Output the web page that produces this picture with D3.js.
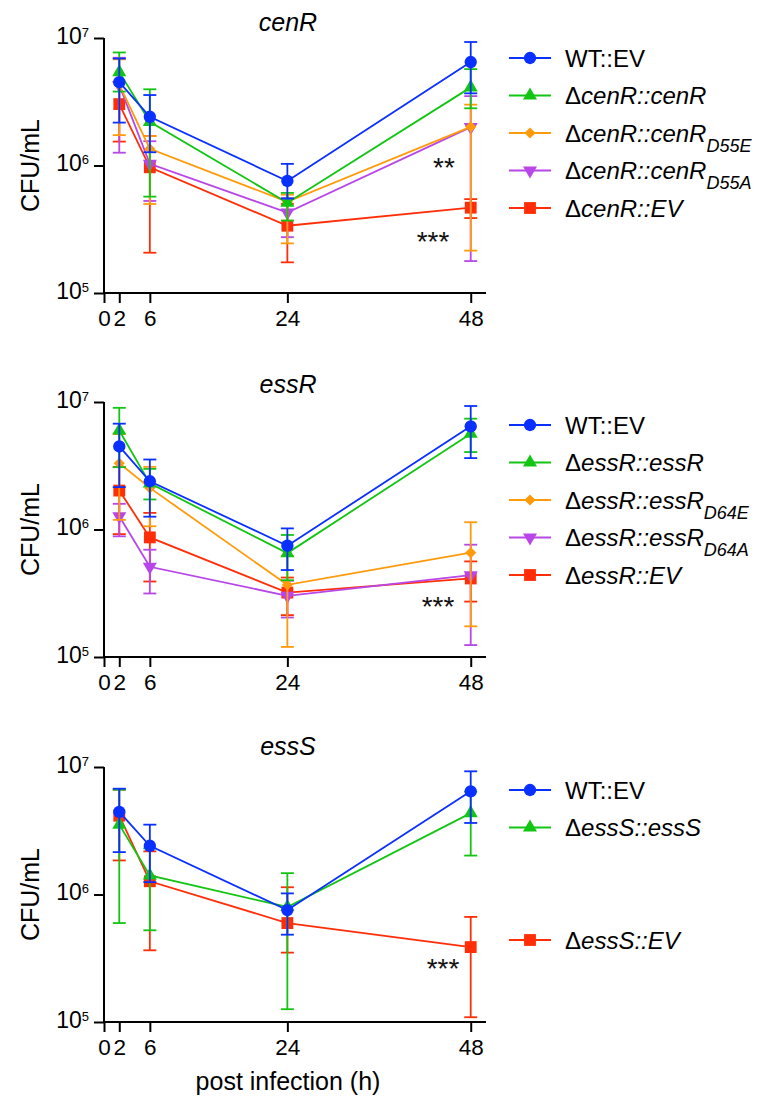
<!DOCTYPE html>
<html>
<head>
<meta charset="utf-8">
<script src="https://cdn.jsdelivr.net/npm/d3@7"></script>
<style>
  body { margin: 0; background: #fff; }
  svg { font-family: Arial, "Liberation Sans", Helvetica, sans-serif; }
</style>
</head>
<body>
<div id="chart"></div>
<script>
// time points (h) and axis ticks
const hours = [2, 6, 24, 48];
const xTicks = [0, 2, 6, 24, 48];
const yTicks = [1e5, 1e6, 1e7];

// cenR panel
const cenR_WT = [4.5e6, 2.41e6, 7.56e5, 6.48e6];
const cenR_WT_lo = [2.17e6, 1.27e6, 5.5e5, 3.68e6];
const cenR_WT_hi = [6.9e6, 3.57e6, 1.03e6, 9.3e6];
const cenR_comp = [5.4e6, 2.2e6, 5.1e5, 4.1e6];
const cenR_comp_lo = [3.8e6, 5.7e5, 3.7e5, 2.81e6];
const cenR_comp_hi = [7.7e6, 3.96e6, 6.1e5, 5.7e6];
const cenR_D55E = [4.3e6, 1.35e6, 5.2e5, 2.01e6];
const cenR_D55E_lo = [1.73e6, 4.99e5, 2.45e5, 2.15e5];
const cenR_D55E_hi = [6.8e6, 1.7e6, 5.9e5, 3.0e6];
const cenR_D55A = [4.27e6, 1.03e6, 4.27e5, 2.0e6];
const cenR_D55A_lo = [1.26e6, 5.27e5, 2.74e5, 1.78e5];
const cenR_D55A_hi = [7.0e6, 1.55e6, 5.56e5, 3.5e6];
const cenR_EV = [3.03e6, 9.68e5, 3.37e5, 4.67e5];
const cenR_EV_lo = [1.54e6, 2.07e5, 1.74e5, 3.87e5];
const cenR_EV_hi = [4.5e6, 1.7e6, 5.0e5, 5.45e5];

// essR panel
const essR_WT = [4.48e6, 2.39e6, 7.46e5, 6.44e6];
const essR_WT_lo = [2.15e6, 1.26e6, 4.81e5, 3.63e6];
const essR_WT_hi = [6.76e6, 3.54e6, 1.02e6, 9.3e6];
const essR_comp = [5.98e6, 2.3e6, 6.53e5, 5.64e6];
const essR_comp_lo = [3.08e6, 1.72e6, 4.0e5, 4.05e6];
const essR_comp_hi = [9.0e6, 2.99e6, 9.06e5, 7.4e6];
const essR_D64E = [3.31e6, 2.12e6, 3.68e5, 6.58e5];
const essR_D64E_lo = [1.19e6, 1.06e6, 1.2e5, 1.74e5];
const essR_D64E_hi = [5.6e6, 3.1e6, 6.2e5, 1.14e6];
const essR_D64A = [1.27e6, 5.1e5, 3.02e5, 4.38e5];
const essR_D64A_lo = [8.84e5, 3.15e5, 2.04e5, 1.24e5];
const essR_D64A_hi = [1.59e6, 6.94e5, 3.96e5, 7.6e5];
const essR_EV = [2.02e6, 8.67e5, 3.2e5, 4.13e5];
const essR_EV_lo = [9.2e5, 3.91e5, 2.13e5, 2.72e5];
const essR_EV_hi = [3.1e6, 1.35e6, 4.2e5, 5.62e5];

// essS panel
const essS_WT = [4.44e6, 2.41e6, 7.55e5, 6.44e6];
const essS_WT_lo = [2.15e6, 1.25e6, 4.84e5, 3.64e6];
const essS_WT_hi = [6.76e6, 3.53e6, 1.02e6, 9.25e6];
const essS_comp = [3.53e6, 1.41e6, 7.98e5, 4.35e6];
const essS_comp_lo = [5.97e5, 5.24e5, 1.26e5, 2.02e6];
const essS_comp_hi = [6.64e6, 2.3e6, 1.47e6, 6.4e6];
const essS_EV = [4.15e6, 1.27e6, 5.97e5, 3.87e5];
const essS_EV_lo = [1.85e6, 3.65e5, 3.5e5, 1.09e5];
const essS_EV_hi = [6.64e6, 2.18e6, 1.14e6, 6.67e5];

const colors = {
  WT: "#0a30ff", comp: "#12c512", E: "#ff9a0a", A: "#b846e8", EV: "#ff2e08"
};

// legend label pieces: [text, italic, subscript]
const panels = [
  {
    title: "cenR", top: 38, titleY: -7, legendTop: 20,
    series: [
      { key: "EV", mean: cenR_EV, lo: cenR_EV_lo, hi: cenR_EV_hi, shape: "square", slot: 4,
        label: [["Δ", 0, 0], ["cenR::EV", 1, 0]] },
      { key: "A", mean: cenR_D55A, lo: cenR_D55A_lo, hi: cenR_D55A_hi, shape: "down", slot: 3,
        label: [["Δ", 0, 0], ["cenR::cenR", 1, 0], ["D55A", 1, 1]] },
      { key: "E", mean: cenR_D55E, lo: cenR_D55E_lo, hi: cenR_D55E_hi, shape: "diamond", slot: 2,
        label: [["Δ", 0, 0], ["cenR::cenR", 1, 0], ["D55E", 1, 1]] },
      { key: "comp", mean: cenR_comp, lo: cenR_comp_lo, hi: cenR_comp_hi, shape: "up", slot: 1,
        label: [["Δ", 0, 0], ["cenR::cenR", 1, 0]] },
      { key: "WT", mean: cenR_WT, lo: cenR_WT_lo, hi: cenR_WT_hi, shape: "circle", slot: 0,
        label: [["WT::EV", 0, 0]] }
    ],
    stars: [{ text: "**", x: 444, v: 1.08e6 }, { text: "***", x: 433, v: 2.85e5 }]
  },
  {
    title: "essR", top: 402, titleY: -9, legendTop: 23,
    series: [
      { key: "EV", mean: essR_EV, lo: essR_EV_lo, hi: essR_EV_hi, shape: "square", slot: 4,
        label: [["Δ", 0, 0], ["essR::EV", 1, 0]] },
      { key: "A", mean: essR_D64A, lo: essR_D64A_lo, hi: essR_D64A_hi, shape: "down", slot: 3,
        label: [["Δ", 0, 0], ["essR::essR", 1, 0], ["D64A", 1, 1]] },
      { key: "E", mean: essR_D64E, lo: essR_D64E_lo, hi: essR_D64E_hi, shape: "diamond", slot: 2,
        label: [["Δ", 0, 0], ["essR::essR", 1, 0], ["D64E", 1, 1]] },
      { key: "comp", mean: essR_comp, lo: essR_comp_lo, hi: essR_comp_hi, shape: "up", slot: 1,
        label: [["Δ", 0, 0], ["essR::essR", 1, 0]] },
      { key: "WT", mean: essR_WT, lo: essR_WT_lo, hi: essR_WT_hi, shape: "circle", slot: 0,
        label: [["WT::EV", 0, 0]] }
    ],
    stars: [{ text: "***", x: 438, v: 2.77e5 }]
  },
  {
    title: "essS", top: 767, titleY: -12, legendTop: 23,
    series: [
      { key: "EV", mean: essS_EV, lo: essS_EV_lo, hi: essS_EV_hi, shape: "square", slot: 4,
        label: [["Δ", 0, 0], ["essS::EV", 1, 0]] },
      { key: "comp", mean: essS_comp, lo: essS_comp_lo, hi: essS_comp_hi, shape: "up", slot: 1,
        label: [["Δ", 0, 0], ["essS::essS", 1, 0]] },
      { key: "WT", mean: essS_WT, lo: essS_WT_lo, hi: essS_WT_hi, shape: "circle", slot: 0,
        label: [["WT::EV", 0, 0]] }
    ],
    stars: [{ text: "***", x: 443, v: 2.95e5 }]
  }
];

const width = 765, height = 1097;
const left = 104, plotW = 382, plotH = 255;

const svg = d3.select("#chart").append("svg")
  .attr("width", width).attr("height", height);

const x = d3.scaleLinear().domain([0, 50]).range([0, plotW]);
const y = d3.scaleLog().domain([1e5, 1e7]).range([plotH, 0]);

function symbolPath(shape) {
  if (shape === "circle") return d3.symbol(d3.symbolCircle, 120)();
  if (shape === "square") return d3.symbol(d3.symbolSquare, 140)();
  if (shape === "diamond") return d3.symbol(d3.symbolSquare, 62)();
  return d3.symbol(d3.symbolTriangle, 85)();
}
function symbolRotate(shape) {
  if (shape === "diamond") return 45;
  if (shape === "down") return 180;
  return 0;
}

panels.forEach((p, pi) => {
  const g = svg.append("g").attr("transform", `translate(${left},${p.top})`);

  // title
  g.append("text")
    .attr("x", 184).attr("y", p.titleY)
    .attr("text-anchor", "middle")
    .attr("font-size", 25).attr("font-style", "italic")
    .text(p.title);

  // y label
  g.append("text")
    .attr("transform", `translate(${-65},${plotH / 2}) rotate(-90)`)
    .attr("text-anchor", "middle")
    .attr("font-size", 25)
    .text("CFU/mL");

  // axes
  const yAxis = d3.axisLeft(y).tickValues(yTicks).tickSize(10).tickSizeOuter(0)
    .tickFormat("");
  const ya = g.append("g").call(yAxis);
  ya.select(".domain").attr("stroke-width", 2).attr("d", `M0,0V${plotH}`);
  ya.selectAll(".tick line").attr("stroke-width", 2);
  ya.selectAll(".tick").append("text")
    .attr("x", -15).attr("dy", 5)
    .attr("text-anchor", "end").attr("fill", "#000")
    .attr("font-size", 23)
    .each(function (d) {
      const t = d3.select(this);
      t.append("tspan").text("10");
      t.append("tspan").attr("dy", -7).attr("font-size", 13).text(Math.round(Math.log10(d)));
    });

  const xAxis = d3.axisBottom(x).tickValues(xTicks).tickSize(10).tickSizeOuter(0)
    .tickPadding(7);
  const xa = g.append("g").attr("transform", `translate(0,${plotH})`).call(xAxis);
  xa.select(".domain").attr("stroke-width", 2).attr("d", `M0,0H${plotW}`);
  xa.selectAll(".tick line").attr("stroke-width", 2);
  xa.selectAll(".tick text").attr("font-size", 22.5).attr("fill", "#000");

  // series
  const plot = g.append("g");
  p.series.forEach(s => {
    const c = colors[s.key];
    const pts = hours.map((h, i) => ({ h, m: s.mean[i], lo: s.lo[i], hi: s.hi[i] }));
    const sg = plot.append("g");

    sg.selectAll("line.err").data(pts).join("line")
      .attr("x1", d => x(d.h)).attr("x2", d => x(d.h))
      .attr("y1", d => y(d.lo)).attr("y2", d => y(d.hi))
      .attr("stroke", c).attr("stroke-width", 1.8);
    ["lo", "hi"].forEach(k => {
      sg.selectAll("line.cap-" + k).data(pts).join("line")
        .attr("x1", d => x(d.h) - 6.5).attr("x2", d => x(d.h) + 6.5)
        .attr("y1", d => y(d[k])).attr("y2", d => y(d[k]))
        .attr("stroke", c).attr("stroke-width", 1.8);
    });

    sg.append("path")
      .datum(pts)
      .attr("fill", "none").attr("stroke", c).attr("stroke-width", 1.8)
      .attr("d", d3.line().x(d => x(d.h)).y(d => y(d.m)));

    sg.selectAll("path.mk").data(pts).join("path")
      .attr("d", symbolPath(s.shape))
      .attr("transform", d => `translate(${x(d.h)},${y(d.m)}) rotate(${symbolRotate(s.shape)})`)
      .attr("fill", c);
  });

  // significance marks (centred on the given value)
  p.stars.forEach(st => {
    g.append("text")
      .attr("x", st.x - left).attr("y", y(st.v))
      .attr("dy", "0.56em")
      .attr("text-anchor", "middle")
      .attr("font-size", 28).attr("fill", "#111")
      .text(st.text);
  });

  // legend
  const lg = svg.append("g").attr("transform", `translate(509,${p.top + p.legendTop})`);
  p.series.forEach(s => {
    const c = colors[s.key];
    const row = lg.append("g").attr("transform", `translate(0,${s.slot * 37.5})`);
    row.append("line").attr("x1", 0).attr("x2", 42)
      .attr("stroke", c).attr("stroke-width", 1.8);
    row.append("path").attr("d", symbolPath(s.shape))
      .attr("transform", `translate(21,0) rotate(${symbolRotate(s.shape)})`)
      .attr("fill", c);
    const t = row.append("text").attr("x", 56).attr("y", 8.5).attr("font-size", 24);
    s.label.forEach(([txt, it, sub]) => {
      const ts = t.append("tspan").text(txt);
      if (it) ts.attr("font-style", "italic");
      if (sub) ts.attr("font-size", 18).attr("dy", 10);
    });
  });

  if (pi === panels.length - 1) {
    g.append("text")
      .attr("x", 184).attr("y", plotH + 68)
      .attr("text-anchor", "middle")
      .attr("font-size", 25)
      .text("post infection (h)");
  }
});
</script>
</body>
</html>
